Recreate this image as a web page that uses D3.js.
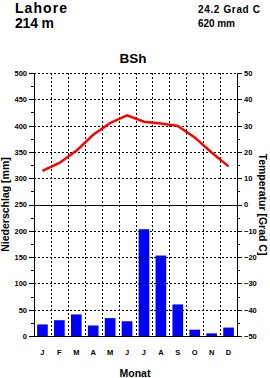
<!DOCTYPE html>
<html>
<head>
<meta charset="utf-8">
<script src="https://cdn.jsdelivr.net/npm/d3@7"></script>
<style>
  body { margin: 0; background: #fff; }
  svg { display: block; font-family: "Liberation Sans", Arial, sans-serif; font-weight: bold; }
</style>
</head>
<body>
<div id="chart"></div>
<script>
// Climate data, Lahore
const months = ["J", "F", "M", "A", "M", "J", "J", "A", "S", "O", "N", "D"];
const precip = [22, 30, 41, 20, 34, 28, 203, 153, 60, 12, 5, 16];
const temp = [12.8, 15.8, 20.4, 26.5, 31.0, 33.9, 31.5, 30.8, 29.9, 25.5, 19.8, 14.5];
const precipTicks = [0, 50, 100, 150, 200, 250, 300, 350, 400, 450, 500];
const tempTicks = [-50, -40, -30, -20, -10, 0, 10, 20, 30, 40, 50];

const W = 270, H = 378;
const plot = {left: 34, right: 237, top: 73, bottom: 336};

const svg = d3.select("#chart").append("svg")
    .attr("width", W)
    .attr("height", H);

const x = d3.scaleBand().domain(d3.range(12)).range([plot.left, plot.right])
    .paddingInner(0.37).paddingOuter(0.185);
const xb = d3.scaleLinear().domain([0, 12]).range([plot.left, plot.right]);
const yP = d3.scaleLinear().domain([0, 500]).range([plot.bottom, plot.top]);
const yT = d3.scaleLinear().domain([-50, 50]).range([plot.bottom, plot.top]);

// header
svg.append("text").attr("x", 15).attr("y", 13).attr("font-size", 14)
    .attr("textLength", 52).text("Lahore");
svg.append("text").attr("x", 15).attr("y", 28).attr("font-size", 14)
    .attr("textLength", 39).text("214 m");
svg.append("text").attr("x", 198).attr("y", 13).attr("font-size", 10)
    .attr("textLength", 62).text("24.2 Grad C");
svg.append("text").attr("x", 198).attr("y", 27).attr("font-size", 10)
    .attr("textLength", 37).text("620 mm");
svg.append("text").attr("x", 133).attr("y", 63).attr("font-size", 13.5)
    .attr("text-anchor", "middle").text("BSh");

// bars
svg.selectAll(".bar")
    .data(precip)
    .enter().append("rect")
    .attr("class", "bar")
    .attr("x", (d, i) => x(i))
    .attr("width", x.bandwidth())
    .attr("y", d => yP(d))
    .attr("height", d => yP(0) - yP(d))
    .attr("fill", "#0000ff");

// grid
const grid = svg.append("g").attr("stroke", "#000").attr("stroke-width", 1)
    .attr("stroke-dasharray", "2,2").attr("shape-rendering", "crispEdges");
grid.selectAll("line.v")
    .data(d3.range(1, 12))
    .enter().append("line")
    .attr("x1", d => Math.round(xb(d)) + 0.5).attr("x2", d => Math.round(xb(d)) + 0.5)
    .attr("y1", plot.top).attr("y2", plot.bottom);
grid.selectAll("line.h")
    .data(precipTicks.filter(d => d !== 0 && d !== 250))
    .enter().append("line")
    .attr("x1", plot.left).attr("x2", plot.right)
    .attr("y1", d => Math.round(yP(d)) + 0.5).attr("y2", d => Math.round(yP(d)) + 0.5);

// solid lines at 0 mm and 0 degrees
svg.selectAll("line.solid")
    .data([0, 250])
    .enter().append("line")
    .attr("x1", plot.left).attr("x2", plot.right)
    .attr("y1", d => Math.round(yP(d)) + 0.5).attr("y2", d => Math.round(yP(d)) + 0.5)
    .attr("stroke", "#000").attr("shape-rendering", "crispEdges");

// temperature line
svg.append("path")
    .datum(temp)
    .attr("fill", "none")
    .attr("stroke", "#ff0000")
    .attr("stroke-width", 2.5)
    .attr("d", d3.line()
        .x((d, i) => x(i) + x.bandwidth() / 2)
        .y(d => yT(d)));

// axes
const axL = d3.axisLeft(yP).tickValues(precipTicks).tickSize(5).tickSizeOuter(0).tickPadding(2);
svg.append("g").attr("transform", "translate(" + plot.left + ",0)").call(axL);
const axL2 = d3.axisLeft(yP).tickValues(d3.range(25, 500, 50)).tickSize(3).tickSizeOuter(0).tickFormat("");
svg.append("g").attr("transform", "translate(" + plot.left + ",0)").call(axL2);

const axR = d3.axisRight(yT).tickValues(tempTicks).tickSize(5).tickSizeOuter(0).tickPadding(2);
svg.append("g").attr("transform", "translate(" + plot.right + ",0)").call(axR);
const axR2 = d3.axisRight(yT).tickValues(d3.range(-45, 50, 10)).tickSize(3).tickSizeOuter(0).tickFormat("");
svg.append("g").attr("transform", "translate(" + plot.right + ",0)").call(axR2);

svg.selectAll(".tick text").attr("font-size", 7.5).attr("font-weight", "bold")
    .attr("font-family", "Liberation Sans, Arial, sans-serif");
svg.selectAll(".tick line, .domain").attr("stroke", "#000").attr("shape-rendering", "crispEdges");

// month labels
svg.selectAll(".mlab")
    .data(months)
    .enter().append("text")
    .attr("class", "mlab")
    .attr("x", (d, i) => x(i) + x.bandwidth() / 2)
    .attr("y", 355)
    .attr("font-size", 7.5)
    .attr("text-anchor", "middle")
    .text(d => d);

// axis titles
svg.append("text").attr("x", 135).attr("y", 377).attr("font-size", 10.5)
    .attr("text-anchor", "middle").text("Monat");
svg.append("text")
    .attr("transform", "translate(9," + (plot.top + plot.bottom) / 2 + ") rotate(-90)")
    .attr("font-size", 10.5).attr("text-anchor", "middle")
    .text("Niederschlag [mm]");
svg.append("text")
    .attr("transform", "translate(259," + (plot.top + plot.bottom) / 2 + ") rotate(90)")
    .attr("font-size", 10.5).attr("text-anchor", "middle")
    .text("Temperatur [Grad C]");
</script>
</body>
</html>
